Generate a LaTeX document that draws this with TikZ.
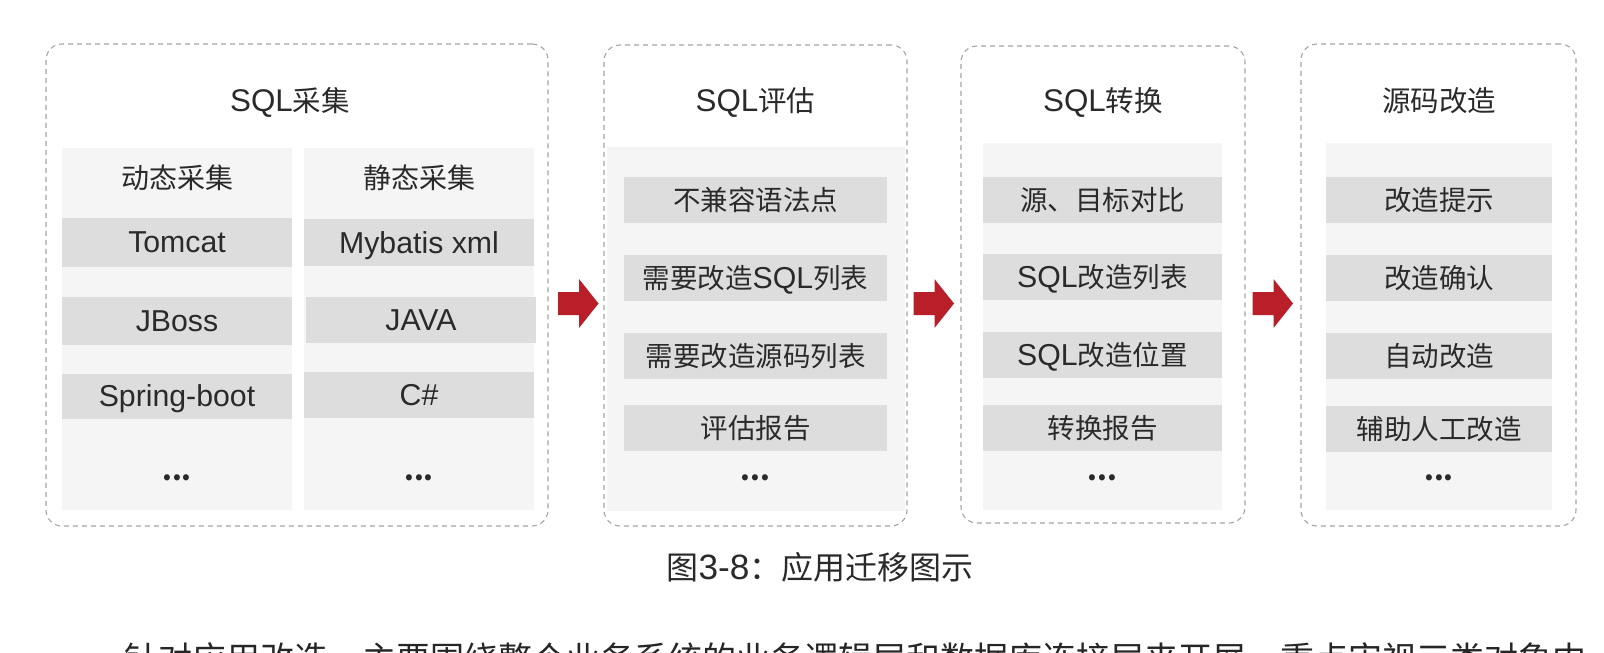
\documentclass[tikz,border=0pt]{standalone}
\usepackage{fontspec}
\setmainfont{Noto Sans CJK SC}
\newfontfamily\latf{Liberation Sans}[Scale=1.1]
\newcommand{\lat}[1]{{\latf #1}}

\definecolor{dashgray}{RGB}{165,165,165}
\definecolor{panelgray}{RGB}{245,245,245}
\definecolor{itemgray}{RGB}{221,221,221}
\definecolor{textgray}{RGB}{42,42,42}
\definecolor{arrowred}{RGB}{184,31,41}

\tikzset{
    stagebox/.style={draw=dashgray, line width=1.1pt, dash pattern=on 5pt off 4pt,
        rounded corners=16pt, inner sep=0pt},
    panel/.style={fill=panelgray, inner sep=0pt},
    itembox/.style={fill=itemgray, inner sep=0pt, minimum height=46pt, text height=24pt, text depth=3pt,
        text=textgray, font=\fontsize{27.5}{30}\selectfont},
    headtext/.style={text=textgray, inner sep=0pt, text height=24pt, text depth=3pt,
        font=\fontsize{28}{30}\selectfont},
    stagetitle/.style={text=textgray, inner sep=0pt, text height=25pt, text depth=3pt,
        font=\fontsize{28.5}{32}\selectfont},
    moredots/.style={text=textgray, inner sep=0pt, anchor=base, font=\fontsize{28}{32}\selectfont\bfseries},
}

\begin{document}
\begin{tikzpicture}[x=1pt, y=-1pt]
    \useasboundingbox (0,0) rectangle (1604,653);
    \clip (0,0) rectangle (1604,653);
    \fill[white] (0,0) rectangle (1604,653);

    % stage 1: SQL collection
    \node[stagebox, minimum width=502pt, minimum height=482pt] (collect) at (297,285) {};
    \node[stagetitle] (collectT) at (290,100) {\lat{SQL}采集};
    \node[panel, minimum width=230pt, minimum height=362pt] (dynP) at (177,329) {};
    \node[panel, minimum width=230pt, minimum height=362pt] (staP) at (419,329) {};
    \node[headtext] (dynH) at (177,178) {动态采集};
    \node[headtext] (staH) at (419,178) {静态采集};
    \node[itembox, minimum width=230pt, minimum height=49pt] (dyn1) at (177,242) {\lat{Tomcat}};
    \node[itembox, minimum width=230pt, minimum height=48pt] (dyn2) at (177,320.5) {\lat{JBoss}};
    \node[itembox, minimum width=230pt, minimum height=45pt] (dyn3) at (177,396) {\lat{Spring-boot}};
    \node[itembox, minimum width=230pt, minimum height=47pt] (sta1) at (419,242.5) {\lat{Mybatis xml}};
    \node[itembox, minimum width=230pt, minimum height=46pt] (sta2) at (421,320) {\lat{JAVA}};
    \node[itembox, minimum width=230pt, minimum height=46pt] (sta3) at (419,395) {\lat{C\#}};
    \node[moredots] (dynD) at (177,480) {...};
    \node[moredots] (staD) at (419,480) {...};

    % stage 2: SQL assessment
    \node[stagebox, minimum width=303pt, minimum height=481pt] (assess) at (755.5,285.5) {};
    \node[stagetitle] (assessT) at (755.5,100) {\lat{SQL}评估};
    \node[panel, minimum width=298pt, minimum height=364pt] (assessP) at (756,329) {};
    \node[itembox, minimum width=263pt] (as1) at (755.5,200) {不兼容语法点};
    \node[itembox, minimum width=263pt] (as2) at (755.5,277.5) {需要改造\lat{SQL}列表};
    \node[itembox, minimum width=263pt] (as3) at (755.5,355.5) {需要改造源码列表};
    \node[itembox, minimum width=263pt] (as4) at (755.5,427.5) {评估报告};
    \node[moredots] (asD) at (755.5,480) {...};

    % stage 3: SQL conversion
    \node[stagebox, minimum width=284pt, minimum height=477pt] (convert) at (1103,284.5) {};
    \node[stagetitle] (convertT) at (1103,100) {\lat{SQL}转换};
    \node[panel, minimum width=239pt, minimum height=367pt] (convertP) at (1102.5,326.5) {};
    \node[itembox, minimum width=239pt] (cv1) at (1102.5,200) {源、目标对比};
    \node[itembox, minimum width=239pt] (cv2) at (1102.5,276.5) {\lat{SQL}改造列表};
    \node[itembox, minimum width=239pt] (cv3) at (1102.5,355) {\lat{SQL}改造位置};
    \node[itembox, minimum width=239pt] (cv4) at (1102.5,427.5) {转换报告};
    \node[moredots] (cvD) at (1102.5,480) {...};

    % stage 4: source code rework
    \node[stagebox, minimum width=275pt, minimum height=482pt] (rework) at (1438.5,285) {};
    \node[stagetitle] (reworkT) at (1439,100) {源码改造};
    \node[panel, minimum width=226pt, minimum height=367pt] (reworkP) at (1439,326.5) {};
    \node[itembox, minimum width=226pt] (rw1) at (1439,200) {改造提示};
    \node[itembox, minimum width=226pt] (rw2) at (1439,277.5) {改造确认};
    \node[itembox, minimum width=226pt] (rw3) at (1439,355.5) {自动改造};
    \node[itembox, minimum width=226pt] (rw4) at (1439,428.5) {辅助人工改造};
    \node[moredots] (rwD) at (1439,480) {...};

    % block arrows between the stages
    \foreach \ax in {558, 913.5, 1252.5}
        \fill[arrowred] (\ax,292) -- ++(21,0) -- ++(0,-13) -- ++(19.5,24.5)
            -- ++(-19.5,24.5) -- ++(0,-13) -- ++(-21,0) -- cycle;

    % caption
    \node[text=textgray, inner sep=0pt, font=\fontsize{32}{36}\selectfont] (caption) at (820,567) {图\lat{3-8}：应用迁移图示};
    \node[text=black!85, inner sep=0pt, anchor=base west, font=\fontsize{34}{40}\selectfont] (bodyline) at (124,671)
        {针对应用改造，主要围绕整个业务系统的业务逻辑层和数据库连接层来开展，重点审视三类对象中};
\end{tikzpicture}
\end{document}
